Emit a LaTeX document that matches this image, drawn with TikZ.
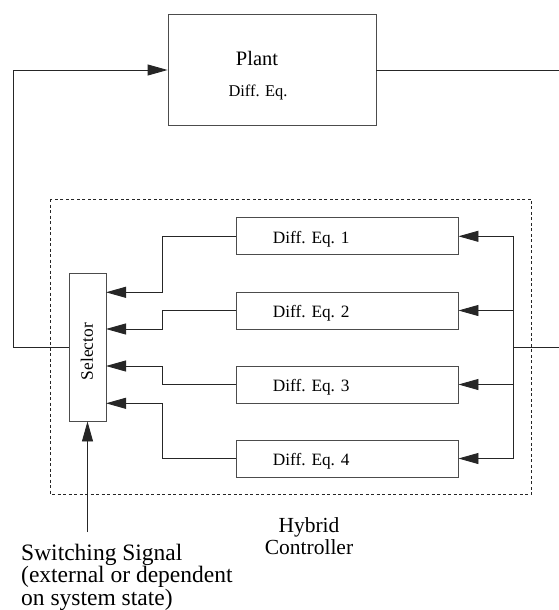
\documentclass[tikz,border=0pt]{standalone}
\usepackage{fontspec}
\setmainfont{Liberation Serif}
\usetikzlibrary{arrows.meta,calc}

\begin{document}
\begin{tikzpicture}[x=1pt,y=-1pt,
  wire/.style={line width=0.9pt,draw=black!85},
  arr/.style={wire,-{Triangle[length=20pt,width=11pt]}},
  blockbox/.style={draw=black!70,line width=0.9pt,rectangle,inner sep=0pt},
  deqbox/.style={blockbox,minimum width=222pt,minimum height=37pt},
  deqtext/.style={anchor=base west,inner sep=0pt,font=\fontsize{17.3}{20}\selectfont},
  frame/.style={draw=black!85,line width=0.7pt,dash pattern=on 3pt off 2.5pt}]

\useasboundingbox (0,0) rectangle (559,610);

% plant block
\node[blockbox,minimum width=208pt,minimum height=111pt] (plant) at (272,69.5) {};
\node[anchor=base,inner sep=0pt,font=\fontsize{20.5}{24}\selectfont] (plantname) at (257,65.7) {Plant};
\node[anchor=base,inner sep=0pt,font=\fontsize{16.4}{20}\selectfont] (plantde) at (258,96.5) {Diff. Eq.};

% hybrid controller frame
\draw[frame] (50,199) rectangle (531.7,494);

% selector
\node[blockbox,minimum width=37pt,minimum height=148pt] (sel) at (87.5,347) {};
\node[rotate=90,inner sep=0pt,font=\fontsize{17.4}{20}\selectfont] (seltext) at (87,351.5) {Selector};

% controller equations
\foreach \i/\y in {1/236.3,2/310.5,3/384.5,4/458.5}{
  \node[deqbox] (deq\i) at (347,\y) {};
  \node[deqtext] (deqt\i) at (272.7,\y+6.8) {Diff. Eq. \i};
}

% selector inputs and the bends leading to them
\foreach \i/\y in {1/292.3,2/329,3/366,4/403.3}{
  \coordinate (s\i) at (106,\y);
  \coordinate (k\i) at (162,\y);
}
\foreach \i in {1,2,3,4}{
  \draw[arr] (deq\i.west) -| (k\i) -- (s\i);
}

% distribution bus on the right
\coordinate (busT) at (513.3,236.3);
\coordinate (busB) at (513.3,458.5);
\coordinate (busIn) at (513.3,347.7);
\coordinate (busEnd) at (559,347.7);
\draw[wire] (busT) -- (busB);
\draw[wire] (busIn) -- (busEnd);
\foreach \i in {1,2,3,4}{
  \draw[arr] (busT |- deq\i.east) -- (deq\i.east);
}

% plant loop
\coordinate (loopB) at (13,347);
\coordinate (loopT) at (13,70);
\coordinate (plantOut) at (559,70);
\draw[arr] (sel.west) -- (loopB) -- (loopT) -- (plant.west |- loopT);
\draw[wire] (plant.east |- plantOut) -- (plantOut);

% switching signal
\coordinate (sw) at (87.5,532);
\draw[arr] (sw) -- (sel.south);
\node[anchor=base west,inner sep=0pt,align=left,font=\fontsize{23.5}{19.5}\selectfont] (swtext) at (21,605)
  {Switching Signal\\(external or dependent\\on system state)};

% controller label
\node[anchor=base,inner sep=0pt,align=center,font=\fontsize{21.5}{22}\selectfont] (hc) at (309,554.3)
  {Hybrid\\Controller};

\end{tikzpicture}
\end{document}
